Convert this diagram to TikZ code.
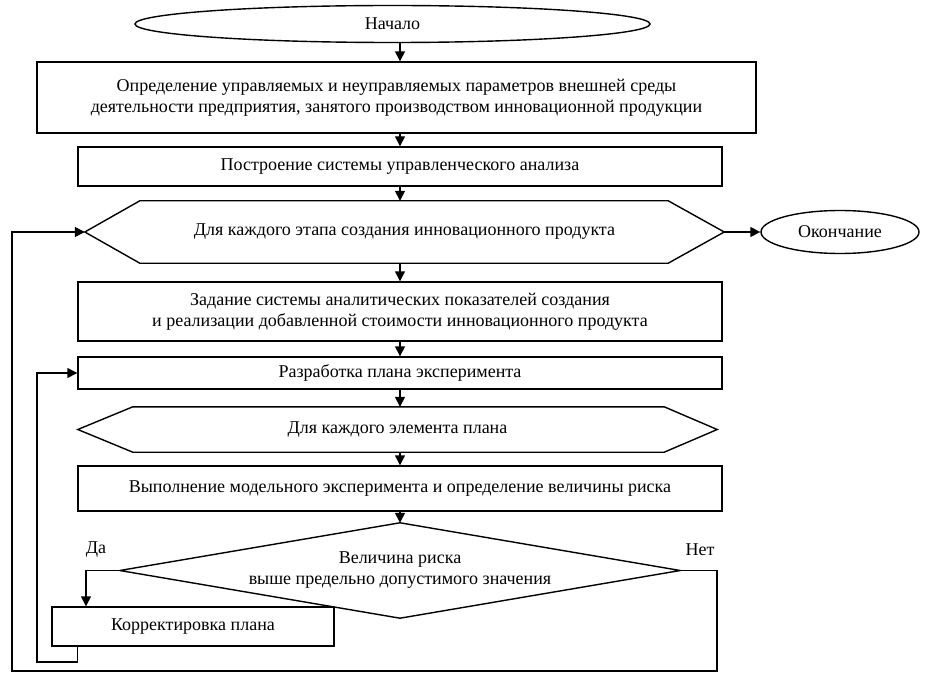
\documentclass[tikz,border=0pt]{standalone}
\usepackage{fontspec}
\setmainfont{Liberation Serif}
\usetikzlibrary{arrows.meta,shapes.geometric}
\begin{document}
\begin{tikzpicture}[x=1pt,y=-1pt,
  every node/.style={font=\fontsize{18}{21}\selectfont, inner sep=0pt, align=center},
  ln/.style={line width=1.4pt},
  arr/.style={ln,-{Triangle[length=10pt,width=10pt]}},
  boxn/.style={draw, ln, rectangle},
  ell/.style={draw, ln, ellipse},
  ghost/.style={rectangle, draw=none}]
\useasboundingbox (0,0) rectangle (926,679);

\node[ell, minimum width=515pt, minimum height=37pt] (start) at (392.5,24) {Начало};
\node[boxn, minimum width=719pt, minimum height=71pt] (b1) at (396.5,97.5)
  {Определение управляемых и неуправляемых параметров внешней среды\\деятельности предприятия, занятого производством инновационной продукции};
\node[boxn, minimum width=644pt, minimum height=39pt] (b2) at (400,166.5) {Построение системы управленческого анализа};
\node[ghost, minimum width=639pt, minimum height=62pt] (h1) at (404.5,232) {Для каждого этапа создания инновационного продукта};
\node[ell, minimum width=158pt, minimum height=43pt] (end) at (840,232) {Окончание};
\node[boxn, minimum width=644pt, minimum height=59pt] (b3) at (400,311.5)
  {Задание системы аналитических показателей создания\\и реализации добавленной стоимости инновационного продукта};
\node[boxn, minimum width=644pt, minimum height=32pt] (b4) at (400,373) {Разработка плана эксперимента};
\node[ghost, minimum width=639pt, minimum height=45pt] (h2) at (397.5,429.5) {Для каждого элемента плана};
\node[boxn, minimum width=644pt, minimum height=45pt] (b5) at (400,488.5) {Выполнение модельного эксперимента и определение величины риска};
\node[ghost, minimum width=560pt, minimum height=95pt] (dia) at (400,570.5) {Величина риска\\выше предельно допустимого значения};
\node[boxn, minimum width=282pt, minimum height=39pt] (korr) at (193,626.5) {Корректировка плана};
\node (da) at (96,550) {Да};
\node (net) at (700,550) {Нет};

% shapes drawn from ghost anchors
\draw[ln] (h1.west) -- ([xshift=55pt]h1.north west) -- ([xshift=-56pt]h1.north east) -- (h1.east)
  -- ([xshift=-56pt]h1.south east) -- ([xshift=55pt]h1.south west) -- cycle;
\draw[ln] (h2.west) -- ([xshift=55pt]h2.north west) -- ([xshift=-53pt]h2.north east) -- (h2.east)
  -- ([xshift=-53pt]h2.south east) -- ([xshift=55pt]h2.south west) -- cycle;
\draw[ln] (dia.north) -- (dia.east) -- (dia.south) -- (dia.west) -- cycle;

% main column
\coordinate (col) at (400,0);
\draw[arr] (start.south -| col) -- (b1.north -| col);
\draw[arr] (b1.south -| col) -- (b2.north -| col);
\draw[arr] (b2.south -| col) -- (h1.north -| col);
\draw[arr] (h1.south -| col) -- (b3.north -| col);
\draw[arr] (b3.south -| col) -- (b4.north -| col);
\draw[arr] (b4.south -| col) -- (h2.north -| col);
\draw[arr] (h2.south -| col) -- (b5.north -| col);
\draw[arr] (b5.south -| col) -- (dia.north -| col);
\draw[arr] (h1.east) -- (end.west);

% yes branch
\coordinate (dax) at (86,0);
\draw[arr] (dia.west) -- (dia.west -| dax) -- (korr.north -| dax);

% inner loop
\coordinate (il) at (37,662);
\draw[arr] (b4.west |- korr.south) -- (b4.west |- il) -- (il) -- (il |- b4.west) -- (b4.west);

% outer loop
\coordinate (ol) at (12,671);
\coordinate (orr) at (717,671);
\draw[arr] (dia.east) -- (dia.east -| orr) -- (orr) -- (ol) -- (ol |- h1.west) -- (h1.west);
\end{tikzpicture}
\end{document}
